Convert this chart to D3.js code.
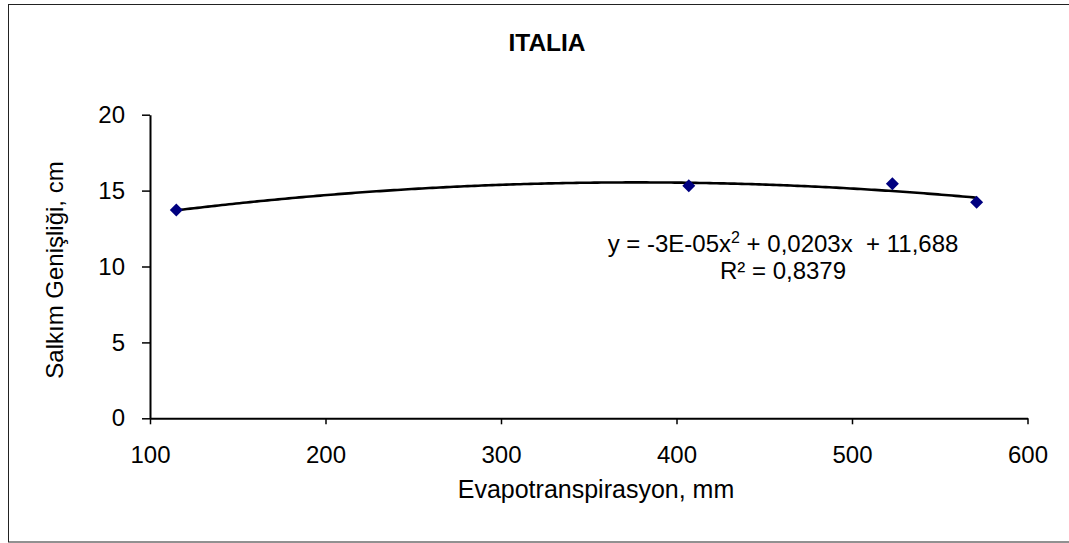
<!DOCTYPE html>
<html lang="tr">
<head>
<meta charset="UTF-8">
<title>ITALIA</title>
<script src="https://d3js.org/d3.v7.min.js"></script>
<style>
  body { margin: 0; background: #fff; }
  svg text { font-family: Arial, "Liberation Sans", sans-serif; fill: #000; }
</style>
</head>
<body>
<svg id="chart" width="1069" height="543"></svg>
<script>
// Data
const etValues = [115, 407, 523, 571];           // Evapotranspirasyon, mm
const widthValues = [13.72, 15.32, 15.45, 14.23]; // Salkım Genişliği, cm
const xTicks = [100, 200, 300, 400, 500, 600];
const yTicks = [0, 5, 10, 15, 20];
const equationText = "y = -3E-05x";
const equationRest = " + 0,0203x  + 11,688";
const r2Text = "R² = 0,8379";

const FS = 24;
const svg = d3.select("#chart");

// outer border
svg.append("rect")
  .attr("x", 8.5).attr("y", 4.5)
  .attr("width", 1062).attr("height", 537.5)
  .attr("fill", "none").attr("stroke", "#222").attr("stroke-width", 1);

const x = d3.scaleLinear().domain([100, 600]).range([150, 1027.5]);
const y = d3.scaleLinear().domain([0, 20]).range([418.3, 114.7]);

// axes
const xAxis = svg.append("g")
  .attr("transform", `translate(0,${y(0)})`)
  .call(d3.axisBottom(x).tickValues(xTicks).tickSize(6).tickSizeOuter(0).tickPadding(22));
const yAxis = svg.append("g")
  .attr("transform", `translate(${x(100)},0)`)
  .call(d3.axisLeft(y).tickValues(yTicks).tickSize(8).tickSizeOuter(0).tickPadding(17));

[xAxis, yAxis].forEach(a => {
  a.attr("font-size", FS).attr("font-family", "Arial, 'Liberation Sans', sans-serif");
  a.select(".domain").attr("stroke", "#000").attr("stroke-width", 2);
  a.selectAll(".tick line").attr("stroke", "#000").attr("stroke-width", 1.5);
});

// quadratic least squares trendline (like Excel polynomial trendline)
function polyFit(xs, ys) {
  let S = [[0,0,0],[0,0,0],[0,0,0]], B = [0,0,0];
  xs.forEach((xv, i) => {
    const p = [1, xv, xv * xv];
    for (let r = 0; r < 3; r++) {
      B[r] += p[r] * ys[i];
      for (let c = 0; c < 3; c++) S[r][c] += p[r] * p[c];
    }
  });
  for (let i = 0; i < 3; i++) {
    for (let k = i + 1; k < 3; k++) {
      const f = S[k][i] / S[i][i];
      for (let c = i; c < 3; c++) S[k][c] -= f * S[i][c];
      B[k] -= f * B[i];
    }
  }
  const coef = [0,0,0];
  for (let i = 2; i >= 0; i--) {
    let s = B[i];
    for (let c = i + 1; c < 3; c++) s -= S[i][c] * coef[c];
    coef[i] = s / S[i][i];
  }
  return coef;
}
const coef = polyFit(etValues, widthValues);
const xMin = d3.min(etValues), xMax = d3.max(etValues);
const curve = d3.range(xMin, xMax + 0.001, 2).map(v => [v, coef[0] + coef[1] * v + coef[2] * v * v]);

svg.append("path")
  .datum(curve)
  .attr("fill", "none")
  .attr("stroke", "#000")
  .attr("stroke-width", 2.6)
  .attr("d", d3.line().x(d => x(d[0])).y(d => y(d[1])));

// markers
svg.selectAll(".pt")
  .data(etValues.map((v, i) => [v, widthValues[i]]))
  .enter().append("path")
  .attr("class", "pt")
  .attr("transform", d => `translate(${x(d[0])},${y(d[1])})`)
  .attr("d", "M0,-6.5L6.5,0L0,6.5L-6.5,0Z")
  .attr("fill", "#000080");

// title
svg.append("text")
  .attr("x", 547).attr("y", 51)
  .attr("text-anchor", "middle")
  .attr("font-size", 24.5).attr("font-weight", "bold")
  .text("ITALIA");

// axis titles
svg.append("text")
  .attr("x", 596).attr("y", 498)
  .attr("text-anchor", "middle")
  .attr("font-size", 25)
  .text("Evapotranspirasyon, mm");

svg.append("text")
  .attr("transform", "translate(63,270) rotate(-90)")
  .attr("text-anchor", "middle")
  .attr("font-size", FS)
  .text("Salkım Genişliği, cm");

// equation
const eq = svg.append("text")
  .attr("x", 783).attr("y", 252)
  .attr("text-anchor", "middle")
  .attr("font-size", FS)
  .style("white-space", "pre");
eq.append("tspan").text(equationText);
eq.append("tspan").attr("dy", -9).attr("font-size", 16).text("2");
eq.append("tspan").attr("dy", 9).text(equationRest);

svg.append("text")
  .attr("x", 783).attr("y", 279)
  .attr("text-anchor", "middle")
  .attr("font-size", FS)
  .text(r2Text);
</script>
</body>
</html>
